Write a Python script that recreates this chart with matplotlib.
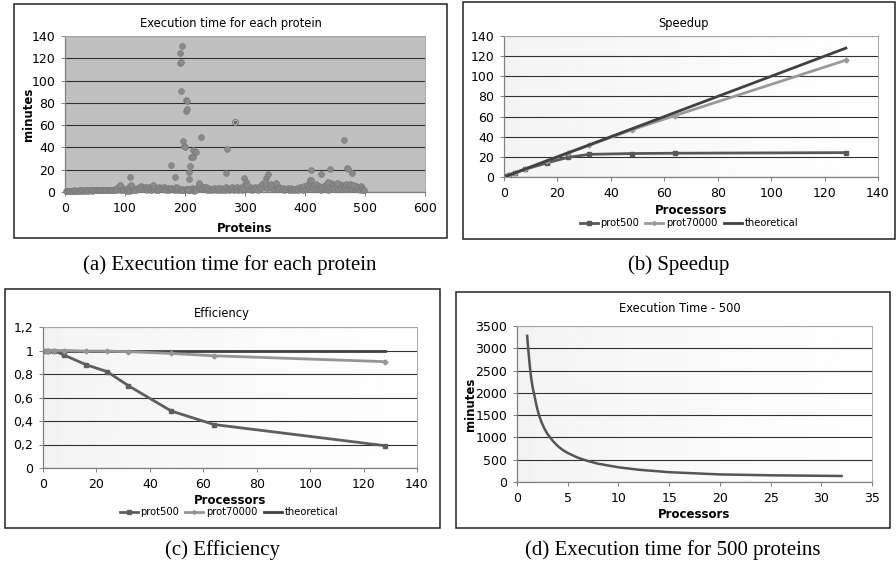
import numpy as np
import matplotlib
matplotlib.use("Agg")
import matplotlib.pyplot as plt
from matplotlib.patches import Rectangle
from matplotlib.ticker import FuncFormatter

# (a) execution time per protein: baseline (every second protein) + peaks
base_proteins = list(range(1, 500, 2))
base_minutes = [
    1.0, 1.2, 1.0, 1.3, 1.1, 1.2, 1.0, 1.4, 1.2, 1.3,
    1.2, 1.5, 1.3, 1.4, 1.2, 1.6, 1.3, 1.4, 1.5, 1.3,
    1.4, 1.6, 1.3, 1.5, 1.7, 1.4, 1.6, 1.5, 1.8, 1.4,
    1.6, 1.5, 1.9, 1.7, 1.5, 2.0, 1.6, 1.8, 2.2, 1.7,
    2.0, 3.1, 1.8, 2.4, 4.5, 1.9, 2.6, 3.8, 2.1, 1.5,
    2.3, 1.2, 3.0, 4.2, 0.8, 2.5, 3.6, 1.9, 2.8, 1.4,
    3.2, 4.6, 2.7, 5.1, 3.9, 2.4, 4.8, 3.3, 2.1, 4.4,
    3.0, 1.6, 3.7, 2.6, 4.1, 2.2, 3.5, 1.8, 4.3, 2.9,
    3.8, 2.3, 4.6, 3.1, 2.0, 3.4, 1.7, 2.8, 3.9, 2.5,
    1.9, 2.6, 4.7, 1.4, 3.3, 2.2, 1.8, 2.5, 1.5, 2.0,
    3.0, 2.4, 1.6, 2.8, 1.9, 3.5, 2.1, 1.3, 2.6, 1.8,
    4.5, 6.3, 3.2, 5.0, 2.4, 4.1, 2.9, 4.8, 1.7, 3.6,
    2.0, 3.1, 1.5, 2.7, 3.9, 1.8, 2.6, 3.3, 2.2, 4.0,
    1.9, 2.8, 3.4, 1.6, 4.6, 2.3, 1.4, 3.0, 2.5, 4.2,
    1.8, 3.5, 2.6, 4.9, 1.7, 2.4, 3.8, 2.0, 5.5, 3.1,
    6.8, 3.9, 5.2, 2.7, 4.4, 1.8, 3.6, 2.5, 4.8, 3.0,
    2.2, 4.1, 5.6, 3.3, 6.9, 4.7, 8.1, 5.4, 3.8, 6.2,
    4.9, 7.2, 3.5, 5.8, 2.9, 4.6, 3.7, 2.4, 4.3, 3.2,
    2.6, 3.9, 1.9, 3.1, 2.4, 4.0, 1.7, 2.8, 3.5, 2.2,
    3.0, 1.8, 2.5, 3.7, 1.6, 4.2, 2.3, 3.4, 1.9, 5.1,
    2.7, 6.2, 3.8, 5.5, 8.4, 4.1, 2.9, 6.6, 3.5, 7.3,
    2.4, 5.2, 3.6, 1.9, 4.7, 2.8, 6.1, 3.3, 5.4, 2.1,
    4.6, 7.8, 3.2, 5.9, 2.5, 6.8, 4.3, 3.0, 7.4, 5.1,
    2.8, 6.0, 4.4, 3.6, 7.1, 2.3, 5.7, 4.0, 6.4, 3.1,
    4.9, 2.6, 5.8, 3.7, 4.5, 2.2, 5.3, 3.4, 2.0, 1.5,
]
peak_proteins = [91, 109, 110, 146, 176, 184, 191, 195, 191.5, 194, 194, 196,
                 198, 200, 202, 204, 201.5, 204, 206.5, 206.5, 208.7, 210,
                 212.6, 213, 216, 218.7, 226, 222.6, 205, 270.5, 269, 299,
                 301, 304, 335.6, 338, 334, 351, 410.7, 408, 410.7, 426,
                 438.5, 441, 464.6, 470, 472, 474.7, 478.6, 454, 480]
peak_minutes = [6, 13.5, 6.6, 6.6, 24, 13.5, 125, 131, 116, 117, 91, 45.5,
                41.7, 40.5, 83, 82, 72.5, 74.5, 12, 18, 23.4, 31.5,
                31.5, 38, 36, 36, 49, 8, 1.5, 38.5, 17, 13,
                9, 6.6, 13, 16, 9, 8, 20, 10.5, 11, 16,
                9, 20.4, 46.5, 21.6, 21, 7.5, 17, 8, 6]
selected_protein = [283]
selected_minutes = [62.4]

# (b) speedup and (c) efficiency
processors = [1, 2, 4, 8, 16, 24, 32, 48, 64, 128]
speedup_500 = [1, 2, 4, 7.7, 14, 19.5, 22.5, 23.3, 23.6, 24.2]
speedup_70000 = [1, 2, 4, 8, 16, 24, 31.5, 47, 61, 116]
speedup_theory = [1, 2, 4, 8, 16, 24, 32, 48, 64, 128]
eff_500 = [1, 1, 1, 0.96, 0.88, 0.82, 0.70, 0.485, 0.37, 0.19]
eff_70000 = [1, 1, 1, 1, 0.995, 0.995, 0.99, 0.975, 0.955, 0.905]
eff_theory = [1, 1, 1, 1, 1, 1, 1, 1, 1, 1]

# (d) execution time, 500 proteins
procs_d = [1, 1.1, 1.2, 1.3, 1.4, 1.5, 1.6, 1.7, 1.85, 2.0, 2.2, 2.4, 2.7,
           3.0, 3.5, 4, 4.5, 5, 6, 7, 8, 10, 12, 15, 20, 25, 32]
time_d = [3280, 3000, 2750, 2520, 2330, 2180, 2060, 1960, 1790, 1640, 1480,
          1350, 1200, 1080, 930, 810, 720, 650, 545, 470, 410, 330, 275, 220,
          170, 150, 135]

W, H = 896, 566
plt.rcParams["font.family"] = ["DejaVu Sans"]
fig = plt.figure(figsize=(W / 100, H / 100), dpi=100)
fig.patch.set_facecolor("white")


def px_axes(x0, y0, x1, y1):
    return fig.add_axes([x0 / W, 1 - y1 / H, (x1 - x0) / W, (y1 - y0) / H])


def frame(x0, y0, x1, y1):
    fig.patches.append(Rectangle((x0 / W, 1 - y1 / H), (x1 - x0) / W, (y1 - y0) / H,
                                 transform=fig.transFigure, fill=False,
                                 edgecolor="#222222", lw=1.1, zorder=0))


def ftext(x, y, s, **kw):
    fig.text(x / W, 1 - y / H, s, ha="center", va="center", **kw)


def excel_style(ax, gradient=True):
    for side in ["left", "bottom"]:
        ax.spines[side].set_color("#808080")
        ax.spines[side].set_linewidth(0.9)
    for side in ["right", "top"]:
        ax.spines[side].set_color("#a8a8a8")
        ax.spines[side].set_linewidth(0.7)
    ax.tick_params(direction="out", length=3, width=0.7, color="#808080",
                   labelsize=9, pad=4)
    ax.grid(axis="y", color="#303030", lw=0.8)
    ax.set_axisbelow(True)
    if gradient:
        grad = np.linspace(0.955, 1.0, 256).reshape(1, -1)
        ax.imshow(grad, extent=[0, 1, 0, 1], transform=ax.transAxes, aspect="auto",
                  cmap="gray", vmin=0, vmax=1, zorder=-1)


# ---------------- (a)
frame(14, 4, 447, 238)
ax = px_axes(65, 36, 425, 192)
ax.set_facecolor("#c0c0c0")
excel_style(ax, gradient=False)
ax.scatter(base_proteins, base_minutes, s=18, color="#8a8a8a", edgecolor="#777777",
           lw=0.4, zorder=3, clip_on=False)
ax.scatter(peak_proteins, peak_minutes, s=18, color="#8a8a8a", edgecolor="#777777",
           lw=0.4, zorder=3, clip_on=False)
ax.scatter(selected_protein, selected_minutes, s=18, facecolor="#c8c8c8",
           edgecolor="#666666", lw=0.6, zorder=4)
ax.scatter(selected_protein, selected_minutes, s=2, color="#666666", zorder=5)
ax.set_xlim(0, 600)
ax.set_ylim(0, 140)
ax.set_xticks(range(0, 601, 100))
ax.set_yticks(range(0, 141, 20))
ax.set_xlabel("Proteins", fontsize=8.5, fontweight="bold")
ax.xaxis.set_label_coords(0.5, (192 - 228) / 156)
ax.xaxis.label.set_va("center")
ax.set_ylabel("minutes", fontsize=8.5, fontweight="bold")
ax.yaxis.set_label_coords((28 - 65) / 360, 0.5)
ax.yaxis.label.set_va("center")
ftext(231, 23, "Execution time for each protein", fontsize=8.3)

# ---------------- (b)
frame(463, 2, 895, 239)
ax = px_axes(504, 36, 878, 177)
excel_style(ax)
ax.plot(processors, speedup_500, color="#585858", lw=2, marker="s", ms=3,
        label="prot500", zorder=3)
ax.plot(processors, speedup_70000, color="#9a9a9a", lw=2, marker="D", ms=2.5,
        label="prot70000", zorder=3)
ax.plot(processors, speedup_theory, color="#404040", lw=2, label="theoretical", zorder=4)
ax.set_xlim(0, 140)
ax.set_ylim(0, 140)
ax.set_xticks(range(0, 141, 20))
ax.set_yticks(range(0, 141, 20))
ax.set_xlabel("Processors", fontsize=8.5, fontweight="bold")
ax.xaxis.set_label_coords(0.5, (177 - 210) / 141)
ax.xaxis.label.set_va("center")
ax.legend(loc="center", bbox_to_anchor=(689 / W, 1 - 223 / H),
          bbox_transform=fig.transFigure, ncol=3, frameon=False, fontsize=7.2,
          handlelength=1.8, handletextpad=0.3, columnspacing=0.6, markerscale=0.8)
ftext(683, 24, "Speedup", fontsize=8.3)

# ---------------- (c)
frame(5, 289, 440, 528)
ax = px_axes(43, 327, 417, 468)
excel_style(ax)
ax.plot(processors, eff_500, color="#5e5e5e", lw=2, marker="s", ms=3,
        label="prot500", zorder=3)
ax.plot(processors, eff_70000, color="#959595", lw=2, marker="D", ms=2.5,
        label="prot70000", zorder=3)
ax.plot(processors, eff_theory, color="#404040", lw=2, label="theoretical", zorder=2)
ax.set_xlim(0, 140)
ax.set_ylim(0, 1.2)
ax.set_xticks(range(0, 141, 20))
ax.set_yticks(np.arange(0, 1.21, 0.2))
ax.yaxis.set_major_formatter(FuncFormatter(lambda v, p: f"{round(v, 1):g}".replace(".", ",")))
ax.set_xlabel("Processors", fontsize=8.5, fontweight="bold")
ax.xaxis.set_label_coords(0.5, (468 - 500) / 141)
ax.xaxis.label.set_va("center")
ax.legend(loc="center", bbox_to_anchor=(229 / W, 1 - 512 / H),
          bbox_transform=fig.transFigure, ncol=3, frameon=False, fontsize=7.2,
          handlelength=1.8, handletextpad=0.3, columnspacing=0.6, markerscale=0.8)
ftext(222, 313, "Efficiency", fontsize=8.3)

# ---------------- (d)
frame(456, 292, 890, 528)
ax = px_axes(517, 326, 872, 482)
excel_style(ax)
ax.plot(procs_d, time_d, color="#555555", lw=1.8, zorder=3)
ax.set_xlim(0, 35)
ax.set_ylim(0, 3500)
ax.set_xticks(range(0, 36, 5))
ax.set_yticks(range(0, 3501, 500))
ax.set_xlabel("Processors", fontsize=8.5, fontweight="bold")
ax.xaxis.set_label_coords(0.5, (482 - 515) / 156)
ax.xaxis.label.set_va("center")
ax.set_ylabel("minutes", fontsize=8.5, fontweight="bold")
ax.yaxis.set_label_coords((470 - 517) / 355, 0.5)
ax.yaxis.label.set_va("center")
ftext(680, 309, "Execution Time - 500", fontsize=8.3)

# captions
cap = dict(fontsize=15, family=["Liberation Serif", "DejaVu Serif"])
ftext(230, 265, "(a) Execution time for each protein", **cap)
ftext(679, 265, "(b) Speedup", **cap)
ftext(222, 550, "(c) Efficiency", **cap)
ftext(673, 550, "(d) Execution time for 500 proteins", **cap)

fig.savefig("out.png", dpi=100)
